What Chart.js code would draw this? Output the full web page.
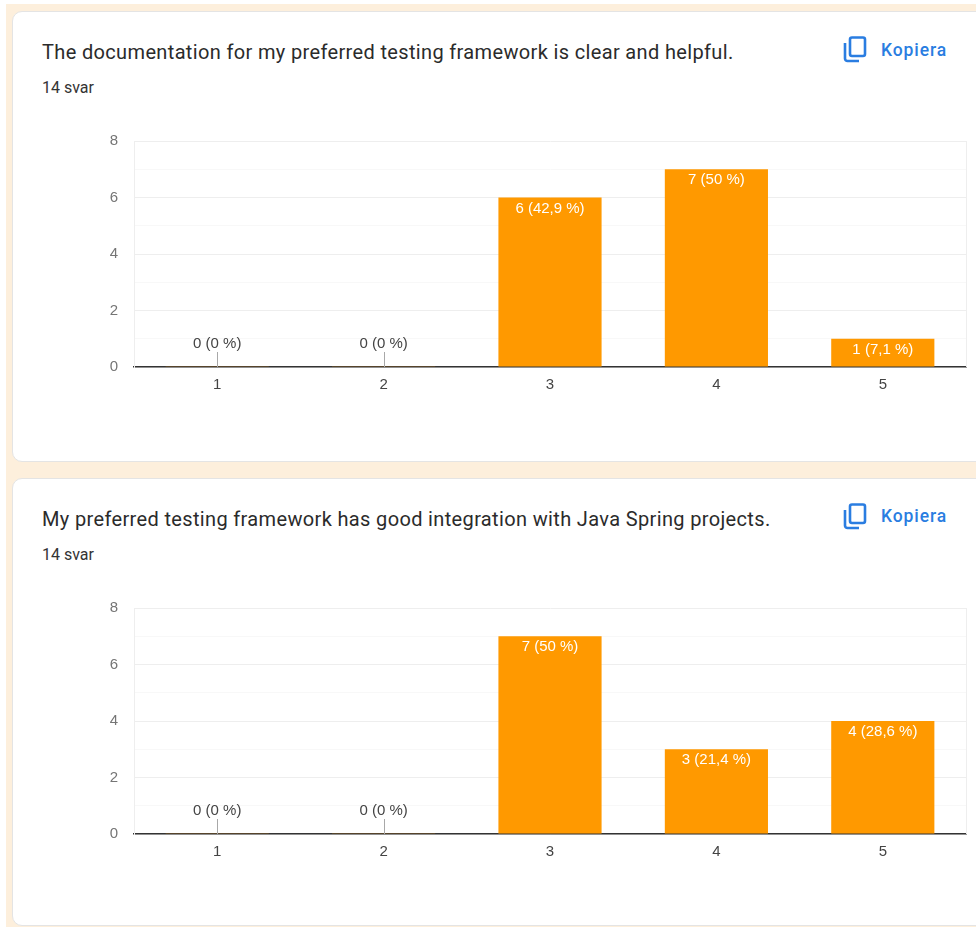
<!DOCTYPE html>
<html lang="sv">
<head>
<meta charset="utf-8">
<title>Svar</title>
<script src="https://cdn.jsdelivr.net/npm/chart.js@4"></script>
<style>
  html, body { margin: 0; padding: 0; background: #fff; }
  body { width: 976px; height: 927px; position: relative; overflow: hidden; }
  .page { position: absolute; left: 6px; top: 4px; right: 0; bottom: 0; background: #fdefdc; }
  .card {
    position: absolute; left: 12px; width: 990px; box-sizing: border-box;
    background: #fff; border: 1px solid #e4e4e4; border-radius: 10px;
  }
  .title {
    position: absolute; left: 42px; font: 400 20px Roboto, sans-serif;
    color: #2b2b2b; white-space: nowrap; letter-spacing: 0.35px;
  }
  .count { position: absolute; left: 42px; font: 400 16px Roboto, sans-serif; color: #333; white-space: nowrap; }
  .copy {
    position: absolute; left: 881px; font: 500 17.5px Roboto, sans-serif;
    color: #2a7de1; white-space: nowrap; letter-spacing: 0.9px;
  }
  .icon { position: absolute; left: 842px; width: 26px; height: 28px; }
  canvas { position: absolute; left: 12px; }
</style>
</head>
<body>
<div class="page"></div>
<div class="card" style="top:11px;height:451px"></div>
<div class="card" style="top:478px;height:448px"></div>

<div class="title" style="top:40px">The documentation for my preferred testing framework is clear and helpful.</div>
<div class="count" style="top:78px">14 svar</div>
<svg class="icon" style="top:35px" viewBox="0 0 26 28" fill="none" stroke="#2a7de1" stroke-width="2.6">
  <path d="M3 8v15.5a2.5 2.5 0 0 0 2.5 2.5H17"/>
  <rect x="8" y="2.5" width="15" height="18.5" rx="2"/>
</svg>
<div class="copy" style="top:40px">Kopiera</div>
<canvas id="chartDocs" width="964" height="310" style="top:116px"></canvas>

<div class="title" style="top:507px">My preferred testing framework has good integration with Java Spring projects.</div>
<div class="count" style="top:545px">14 svar</div>
<svg class="icon" style="top:502px" viewBox="0 0 26 28" fill="none" stroke="#2a7de1" stroke-width="2.6">
  <path d="M3 8v15.5a2.5 2.5 0 0 0 2.5 2.5H17"/>
  <rect x="8" y="2.5" width="15" height="18.5" rx="2"/>
</svg>
<div class="copy" style="top:506px">Kopiera</div>
<canvas id="chartSpring" width="964" height="310" style="top:583px"></canvas>

<script>
const categories = ['1', '2', '3', '4', '5'];
const yTickLabels = [0, 2, 4, 6, 8];

const docsCounts = [0, 0, 6, 7, 1];
const docsLabels = ['0 (0 %)', '0 (0 %)', '6 (42,9 %)', '7 (50 %)', '1 (7,1 %)'];

const springCounts = [0, 0, 7, 3, 4];
const springLabels = ['0 (0 %)', '0 (0 %)', '7 (50 %)', '3 (21,4 %)', '4 (28,6 %)'];

const ORANGE = '#ff9900';
const FONT = "'Liberation Sans', Arial, sans-serif";

// value labels, zero leaders and the frame of the plot
const barLabels = {
    id: 'barLabels',
    afterDatasetsDraw(chart, args, opts) {
        const { ctx, chartArea } = chart;
        const values = chart.data.datasets[0].data;
        ctx.save();

        ctx.strokeStyle = '#eeeeee';
        ctx.lineWidth = 1;
        ctx.beginPath();
        ctx.moveTo(chartArea.right + 0.5, chartArea.top);
        ctx.lineTo(chartArea.right + 0.5, chartArea.bottom);
        ctx.stroke();

        ctx.font = '15px ' + FONT;
        ctx.textAlign = 'center';
        ctx.textBaseline = 'middle';
        chart.getDatasetMeta(0).data.forEach((bar, i) => {
            if (values[i] === 0) {
                ctx.strokeStyle = '#a8a8a8';
                ctx.beginPath();
                ctx.moveTo(Math.round(bar.x) + 0.5, chartArea.bottom - 15);
                ctx.lineTo(Math.round(bar.x) + 0.5, chartArea.bottom);
                ctx.stroke();
                ctx.fillStyle = '#444444';
                ctx.fillText(opts.labels[i], bar.x, chartArea.bottom - 23);
            } else {
                ctx.fillStyle = '#ffffff';
                ctx.fillText(opts.labels[i], bar.x, bar.y + 11);
            }
        });
        ctx.restore();
    }
};

function buildChart(id, counts, labels) {
    return new Chart(document.getElementById(id).getContext('2d'), {
        type: 'bar',
        data: {
            labels: categories,
            datasets: [{
                data: counts,
                backgroundColor: c => c.raw === 0 ? 'rgba(255,153,0,0.35)' : ORANGE,
                barPercentage: 0.62,
                categoryPercentage: 1,
                minBarLength: 1
            }]
        },
        options: {
            responsive: false,
            animation: false,
            layout: { autoPadding: false, padding: { top: 15, right: 10 } },
            plugins: {
                legend: { display: false },
                tooltip: { enabled: false },
                barLabels: { labels }
            },
            scales: {
                x: {
                    z: 1,
                    afterFit: s => { s.height = 59; },
                    grid: { display: false },
                    border: { color: '#333333', width: 1.5 },
                    ticks: { color: '#444444', padding: 1, font: { family: FONT, size: 15 }, maxRotation: 0 }
                },
                y: {
                    min: 0,
                    max: 8,
                    afterFit: s => { s.width = 122; },
                    grid: {
                        drawTicks: false,
                        color: c => yTickLabels.includes(c.tick.value) ? '#eeeeee' : '#f8f8f8'
                    },
                    border: { color: '#eeeeee' },
                    ticks: {
                        stepSize: 1,
                        color: '#757575',
                        padding: 16,
                        font: { family: FONT, size: 15 },
                        callback: v => yTickLabels.includes(v) ? String(v) : ''
                    }
                }
            }
        },
        plugins: [barLabels]
    });
}

buildChart('chartDocs', docsCounts, docsLabels);
buildChart('chartSpring', springCounts, springLabels);
</script>
</body>
</html>
